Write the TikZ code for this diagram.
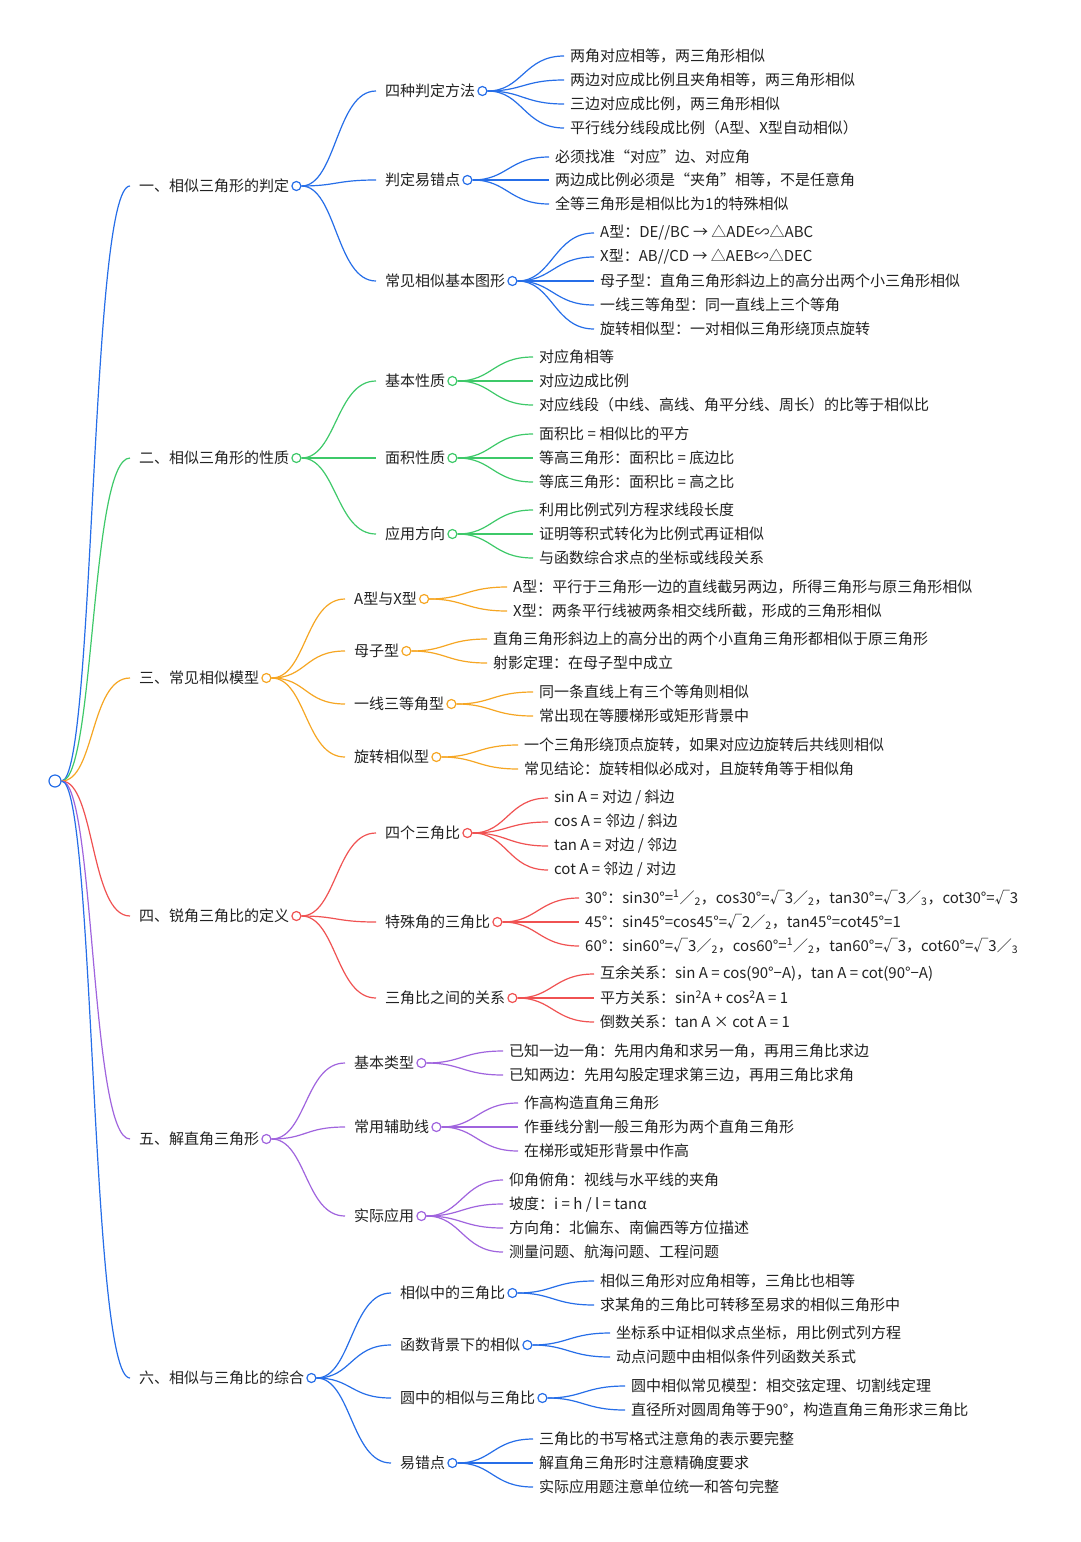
\documentclass[tikz,border=0pt]{standalone}
\usepackage{fontspec}
\setmainfont{Noto Sans CJK SC}
\definecolor{cblue}{RGB}{38,110,232}
\definecolor{cgreen}{RGB}{62,201,105}
\definecolor{corange}{RGB}{246,166,35}
\definecolor{cred}{RGB}{240,82,82}
\definecolor{cpurple}{RGB}{160,100,222}
\definecolor{ink}{RGB}{34,34,34}
\newcommand\sfrac[2]{\textsuperscript{#1}∕\textsubscript{#2}}
% topic node with its dot, linked from a parent dot
\newcommand\topic[5]{%
  \node[txt] (#2) at (#3,#4) {#5};
  \node[dot] (#2c) at ([xshift=7pt]#2.east) {};
  \draw[link] (#1) .. controls +(40,0) and +(-40,0) .. ([xshift=-9pt]#2.west);}
\newcommand\leaf[5]{%
  \node[txt] (#2) at (#3,#4) {#5};
  \draw[link] (#1) .. controls +(40,0) and +(-40,0) .. ([xshift=-6pt]#2.west);}
\begin{document}
\begin{tikzpicture}[x=1pt,y=-1pt,
  txt/.style = {anchor=west,inner sep=0pt,text=ink,font=\fontsize{15}{17}\selectfont},
  dot/.style = {circle,draw=mm,fill=white,line width=1.2pt,minimum size=9pt,inner sep=0pt},
  link/.style = {draw=mm,line width=1.2pt}]
\colorlet{mm}{cblue}
\useasboundingbox[fill=white] (0,0) rectangle (1080,1542);
\node[dot,minimum size=12pt] (root) at (55,781) {};
% 一
\begin{scope}
\colorlet{mm}{cblue}
\topic{root}{a}{139}{186}{一、相似三角形的判定}
\topic{ac}{a1}{385}{91}{四种判定方法}
\leaf{a1c}{a11}{570}{56}{两角对应相等，两三角形相似}
\leaf{a1c}{a12}{570}{80}{两边对应成比例且夹角相等，两三角形相似}
\leaf{a1c}{a13}{570}{104}{三边对应成比例，两三角形相似}
\leaf{a1c}{a14}{570}{128}{平行线分线段成比例（A型、X型自动相似）}
\topic{ac}{a2}{385}{180}{判定易错点}
\leaf{a2c}{a21}{555}{157}{必须找准“对应”边、对应角}
\leaf{a2c}{a22}{555}{180}{两边成比例必须是“夹角”相等，不是任意角}
\leaf{a2c}{a23}{555}{204}{全等三角形是相似比为1的特殊相似}
\topic{ac}{a3}{385}{281}{常见相似基本图形}
\leaf{a3c}{a31}{600}{233}{A型：DE//BC → △ADE∽△ABC}
\leaf{a3c}{a32}{600}{257}{X型：AB//CD → △AEB∽△DEC}
\leaf{a3c}{a33}{600}{281}{母子型：直角三角形斜边上的高分出两个小三角形相似}
\leaf{a3c}{a34}{600}{305}{一线三等角型：同一直线上三个等角}
\leaf{a3c}{a35}{600}{329}{旋转相似型：一对相似三角形绕顶点旋转}
\end{scope}
% 二
\begin{scope}
\colorlet{mm}{cgreen}
\topic{root}{b}{139}{458}{二、相似三角形的性质}
\topic{bc}{b1}{385}{381}{基本性质}
\leaf{b1c}{b11}{539}{357}{对应角相等}
\leaf{b1c}{b12}{539}{381}{对应边成比例}
\leaf{b1c}{b13}{539}{405}{对应线段（中线、高线、角平分线、周长）的比等于相似比}
\topic{bc}{b2}{385}{458}{面积性质}
\leaf{b2c}{b21}{539}{434}{面积比 = 相似比的平方}
\leaf{b2c}{b22}{539}{458}{等高三角形：面积比 = 底边比}
\leaf{b2c}{b23}{539}{482}{等底三角形：面积比 = 高之比}
\topic{bc}{b3}{385}{534}{应用方向}
\leaf{b3c}{b31}{539}{510}{利用比例式列方程求线段长度}
\leaf{b3c}{b32}{539}{534}{证明等积式转化为比例式再证相似}
\leaf{b3c}{b33}{539}{558}{与函数综合求点的坐标或线段关系}
\end{scope}
% 三
\begin{scope}
\colorlet{mm}{corange}
\topic{root}{c}{139}{678}{三、常见相似模型}
\topic{cc}{c1}{354}{599}{A型与X型}
\leaf{c1c}{c11}{513}{587}{A型：平行于三角形一边的直线截另两边，所得三角形与原三角形相似}
\leaf{c1c}{c12}{513}{611}{X型：两条平行线被两条相交线所截，形成的三角形相似}
\topic{cc}{c2}{354}{651}{母子型}
\leaf{c2c}{c21}{493}{639}{直角三角形斜边上的高分出的两个小直角三角形都相似于原三角形}
\leaf{c2c}{c22}{493}{663}{射影定理：在母子型中成立}
\topic{cc}{c3}{354}{704}{一线三等角型}
\leaf{c3c}{c31}{539}{692}{同一条直线上有三个等角则相似}
\leaf{c3c}{c32}{539}{716}{常出现在等腰梯形或矩形背景中}
\topic{cc}{c4}{354}{757}{旋转相似型}
\leaf{c4c}{c41}{524}{745}{一个三角形绕顶点旋转，如果对应边旋转后共线则相似}
\leaf{c4c}{c42}{524}{769}{常见结论：旋转相似必成对，且旋转角等于相似角}
\end{scope}
% 四
\begin{scope}
\colorlet{mm}{cred}
\topic{root}{d}{139}{916}{四、锐角三角比的定义}
\topic{dc}{d1}{385}{833}{四个三角比}
\leaf{d1c}{d11}{554}{798}{sin A = 对边 / 斜边}
\leaf{d1c}{d12}{554}{822}{cos A = 邻边 / 斜边}
\leaf{d1c}{d13}{554}{846}{tan A = 对边 / 邻边}
\leaf{d1c}{d14}{554}{870}{cot A = 邻边 / 对边}
\topic{dc}{d2}{385}{922}{特殊角的三角比}
\leaf{d2c}{d21}{585}{898}{30°：sin30°=\sfrac{1}{2}，cos30°=√3∕\textsubscript{2}，tan30°=√3∕\textsubscript{3}，cot30°=√3}
\leaf{d2c}{d22}{585}{922}{45°：sin45°=cos45°=√2∕\textsubscript{2}，tan45°=cot45°=1}
\leaf{d2c}{d23}{585}{946}{60°：sin60°=√3∕\textsubscript{2}，cos60°=\sfrac{1}{2}，tan60°=√3，cot60°=√3∕\textsubscript{3}}
\topic{dc}{d3}{385}{998}{三角比之间的关系}
\leaf{d3c}{d31}{600}{974}{互余关系：sin A = cos(90°−A)，tan A = cot(90°−A)}
\leaf{d3c}{d32}{600}{998}{平方关系：sin\textsuperscript{2}A + cos\textsuperscript{2}A = 1}
\leaf{d3c}{d33}{600}{1022}{倒数关系：tan A × cot A = 1}
\end{scope}
% 五
\begin{scope}
\colorlet{mm}{cpurple}
\topic{root}{e}{139}{1139}{五、解直角三角形}
\topic{ec}{e1}{354}{1063}{基本类型}
\leaf{e1c}{e11}{509}{1051}{已知一边一角：先用内角和求另一角，再用三角比求边}
\leaf{e1c}{e12}{509}{1075}{已知两边：先用勾股定理求第三边，再用三角比求角}
\topic{ec}{e2}{354}{1127}{常用辅助线}
\leaf{e2c}{e21}{524}{1103}{作高构造直角三角形}
\leaf{e2c}{e22}{524}{1127}{作垂线分割一般三角形为两个直角三角形}
\leaf{e2c}{e23}{524}{1151}{在梯形或矩形背景中作高}
\topic{ec}{e3}{354}{1216}{实际应用}
\leaf{e3c}{e31}{509}{1180}{仰角俯角：视线与水平线的夹角}
\leaf{e3c}{e32}{509}{1204}{坡度：i = h / l = tanα}
\leaf{e3c}{e33}{509}{1228}{方向角：北偏东、南偏西等方位描述}
\leaf{e3c}{e34}{509}{1252}{测量问题、航海问题、工程问题}
\end{scope}
% 六
\begin{scope}
\colorlet{mm}{cblue}
\topic{root}{f}{139}{1378}{六、相似与三角比的综合}
\topic{fc}{f1}{400}{1293}{相似中的三角比}
\leaf{f1c}{f11}{600}{1281}{相似三角形对应角相等，三角比也相等}
\leaf{f1c}{f12}{600}{1305}{求某角的三角比可转移至易求的相似三角形中}
\topic{fc}{f2}{400}{1345}{函数背景下的相似}
\leaf{f2c}{f21}{616}{1333}{坐标系中证相似求点坐标，用比例式列方程}
\leaf{f2c}{f22}{616}{1357}{动点问题中由相似条件列函数关系式}
\topic{fc}{f3}{400}{1398}{圆中的相似与三角比}
\leaf{f3c}{f31}{631}{1386}{圆中相似常见模型：相交弦定理、切割线定理}
\leaf{f3c}{f32}{631}{1410}{直径所对圆周角等于90°，构造直角三角形求三角比}
\topic{fc}{f4}{400}{1463}{易错点}
\leaf{f4c}{f41}{539}{1439}{三角比的书写格式注意角的表示要完整}
\leaf{f4c}{f42}{539}{1463}{解直角三角形时注意精确度要求}
\leaf{f4c}{f43}{539}{1487}{实际应用题注意单位统一和答句完整}
\end{scope}
\end{tikzpicture}
\end{document}
